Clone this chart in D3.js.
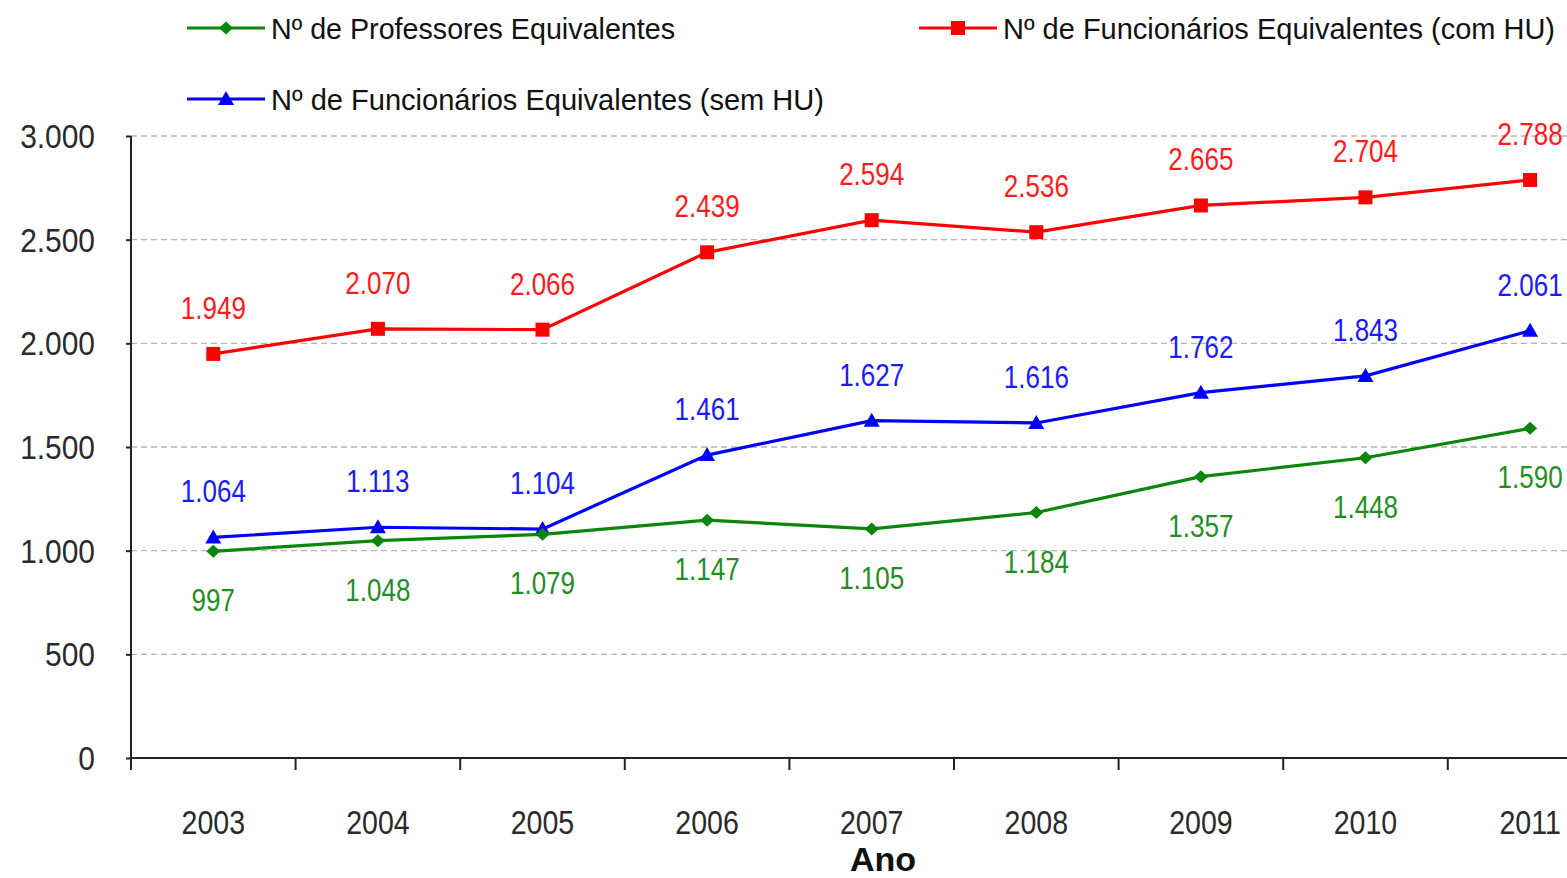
<!DOCTYPE html>
<html><head><meta charset="utf-8">
<script src="https://cdn.jsdelivr.net/npm/d3@7"></script>
<style>body{margin:0;background:#fff;overflow:hidden}svg{display:block}text{font-family:"Liberation Sans",Arial,sans-serif}</style>
</head><body>
<script>
const years = ["2003","2004","2005","2006","2007","2008","2009","2010","2011"];
const professores = [997,1048,1079,1147,1105,1184,1357,1448,1590];
const funcComHU = [1949,2070,2066,2439,2594,2536,2665,2704,2788];
const funcSemHU = [1064,1113,1104,1461,1627,1616,1762,1843,2061];
const yTicks = [0,500,1000,1500,2000,2500,3000];
const seriesNames = ["Nº de Professores  Equivalentes","Nº de Funcionários  Equivalentes  (com HU)","Nº de Funcionários  Equivalentes  (sem HU)"];
const xTitle = "Ano";

const W=1567,H=878;
const svg=d3.select("body").append("svg").attr("width",W).attr("height",H);
const x=d3.scaleBand().domain(years).range([131,131+9*164.6]).padding(0);
const y=d3.scaleLinear().domain([0,3000]).range([758,136]);
const fmt=v=>d3.format(",")(v).replace(/,/g,".");

// gridlines
svg.append("g").selectAll("line").data(yTicks.filter(d=>d>0)).join("line")
 .attr("x1",131).attr("x2",W).attr("y1",d=>y(d)).attr("y2",d=>y(d))
 .attr("stroke","#b4b4b4").attr("stroke-width",1.3).attr("stroke-dasharray","6,4");

// axes
const yAx=svg.append("g").attr("transform","translate(131,0)")
 .call(d3.axisLeft(y).tickValues(yTicks).tickSize(5).tickFormat(()=>""));
const xAx=svg.append("g").attr("transform","translate(0,758)")
 .call(d3.axisBottom(x).tickSize(0).tickFormat(()=>""));
[yAx,xAx].forEach(g=>{g.selectAll("path,line").attr("stroke","#222").attr("stroke-width",2);});
yAx.select(".domain").attr("d","M0,136V758");
xAx.select(".domain").attr("d","M131,0H"+W);
// x tick marks at band boundaries
svg.append("g").selectAll("line").data(years).join("line")
 .attr("x1",d=>x(d)).attr("x2",d=>x(d)).attr("y1",758).attr("y2",770)
 .attr("stroke","#222").attr("stroke-width",2);

function stext(g,xx,yy,txt,size,sx,anchor,color,weight){
  return g.append("g").attr("transform",`translate(${xx},${yy}) scale(${sx},1)`)
   .append("text").attr("text-anchor",anchor).attr("font-size",size)
   .attr("fill",color).attr("font-weight",weight||"normal").text(txt);
}
// y tick labels
yTicks.forEach(t=>stext(svg,95,y(t)+12,fmt(t),34,0.88,"end","#2a2a2a"));
// x labels
years.forEach(yr=>stext(svg,x(yr)+x.bandwidth()/2,834,yr,34,0.84,"middle","#2a2a2a"));
stext(svg,883,871,xTitle,34,1,"middle","#111","bold");

const cx=d=>x(d)+x.bandwidth()/2;
const series=[
 {data:funcComHU,color:"#ff0000",label:"#ff1a1a",marker:"square",dy:-35},
 {data:funcSemHU,color:"#0000ff",label:"#1a1aff",marker:"triangle",dy:-35},
 {data:professores,color:"#0a860a",label:"#1f8f1f",marker:"diamond",dy:60}
];
const line=d3.line().x((d,i)=>cx(years[i])).y(d=>y(d));
function marker(g,type,color){
  if(type==="square") g.append("rect").attr("x",-7).attr("y",-7).attr("width",14).attr("height",14).attr("fill",color);
  if(type==="triangle") g.append("path").attr("d","M0,-8L8,6H-8Z").attr("fill",color);
  if(type==="diamond") g.append("path").attr("d","M0,-6.5L7,0L0,6.5L-7,0Z").attr("fill",color);
}
series.forEach(s=>{
  svg.append("path").datum(s.data).attr("d",line).attr("fill","none").attr("stroke",s.color).attr("stroke-width",3.2);
  s.data.forEach((v,i)=>{
    const g=svg.append("g").attr("transform",`translate(${cx(years[i])},${y(v)})`);
    marker(g,s.marker,s.color);
    stext(svg,cx(years[i]),y(v)+s.dy,fmt(v),31,0.84,"middle",s.label);
  });
});

// legend
const leg=[
 {x:187,y:28,color:"#0a860a",marker:"diamond",name:seriesNames[0],tl:404},
 {x:919,y:28,color:"#ff0000",marker:"square",name:seriesNames[1],tl:552},
 {x:187,y:99,color:"#0000ff",marker:"triangle",name:seriesNames[2],tl:553}
];
leg.forEach(l=>{
  svg.append("line").attr("x1",l.x).attr("x2",l.x+78).attr("y1",l.y).attr("y2",l.y).attr("stroke",l.color).attr("stroke-width",3.2);
  marker(svg.append("g").attr("transform",`translate(${l.x+39},${l.y})`),l.marker,l.color);
  svg.append("text").attr("x",l.x+84).attr("y",l.y+11).attr("font-size",29).attr("fill","#111")
   .attr("textLength",l.tl).attr("lengthAdjust","spacingAndGlyphs").text(l.name);
});
</script>
</body></html>
